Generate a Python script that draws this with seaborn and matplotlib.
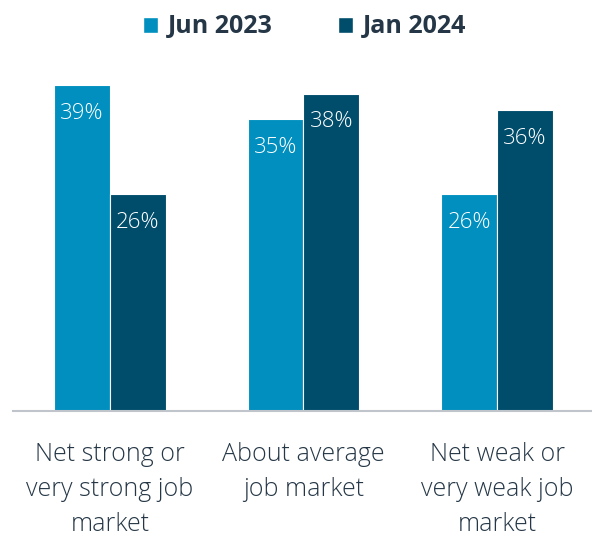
import matplotlib
matplotlib.use("Agg")
import matplotlib.pyplot as plt
import seaborn as sns
import pandas as pd
from matplotlib.patches import Patch

categories = ["Net strong or\nvery strong job\nmarket", "About average\njob market", "Net weak or\nvery weak job\nmarket"]
series_names = ["Jun 2023", "Jan 2024"]
jun_2023 = [39, 35, 26]
jan_2024 = [26, 38, 36]
colors = ["#008FBE", "#004D6B"]
text_color = "#253746"

df = pd.DataFrame({
    "category": categories * 2,
    "series": [series_names[0]] * 3 + [series_names[1]] * 3,
    "value": jun_2023 + jan_2024,
})

sns.set_theme(style="white")
plt.rcParams['font.family'] = ['Open Sans', 'DejaVu Sans']

fig = plt.figure(figsize=(5.92, 5.37), dpi=100)
ax = fig.add_axes([0.022, 0.2346, 0.978, 0.70])
sns.barplot(data=df, x="category", y="value", hue="series", palette=colors,
            saturation=1, width=0.575, ax=ax, legend=False,
            edgecolor="white", linewidth=0.8)
ax.set_xlim(-0.5, 2.49)
ax.set_ylim(0, 45)
for cont in ax.containers:
    ax.bar_label(cont, labels=[f"{v:.0f}%" for v in cont.datavalues],
                 label_type="edge", padding=-28, color="white", fontsize=16,
                 fontweight="light")
for s in ["top", "right", "left"]:
    ax.spines[s].set_visible(False)
ax.spines["bottom"].set_color("#BFC5CA")
ax.spines["bottom"].set_linewidth(1.5)
ax.set_yticks([])
ax.set_xlabel("")
ax.set_ylabel("")
ax.tick_params(axis="x", length=0, pad=22)
for lbl in ax.get_xticklabels():
    lbl.set_fontsize(18)
    lbl.set_color(text_color)
    lbl.set_fontweight("light")
    lbl.set_linespacing(1.55)

handles = [Patch(facecolor=c) for c in colors]
fig.legend(handles, series_names, loc="upper center", bbox_to_anchor=(0.515, 1.015),
           ncol=2, frameon=False, handlelength=0.6, handleheight=0.6,
           columnspacing=2.6, handletextpad=0.4,
           prop={"size": 18, "weight": "bold"}, labelcolor=text_color)

fig.savefig("out.png", dpi=100)
